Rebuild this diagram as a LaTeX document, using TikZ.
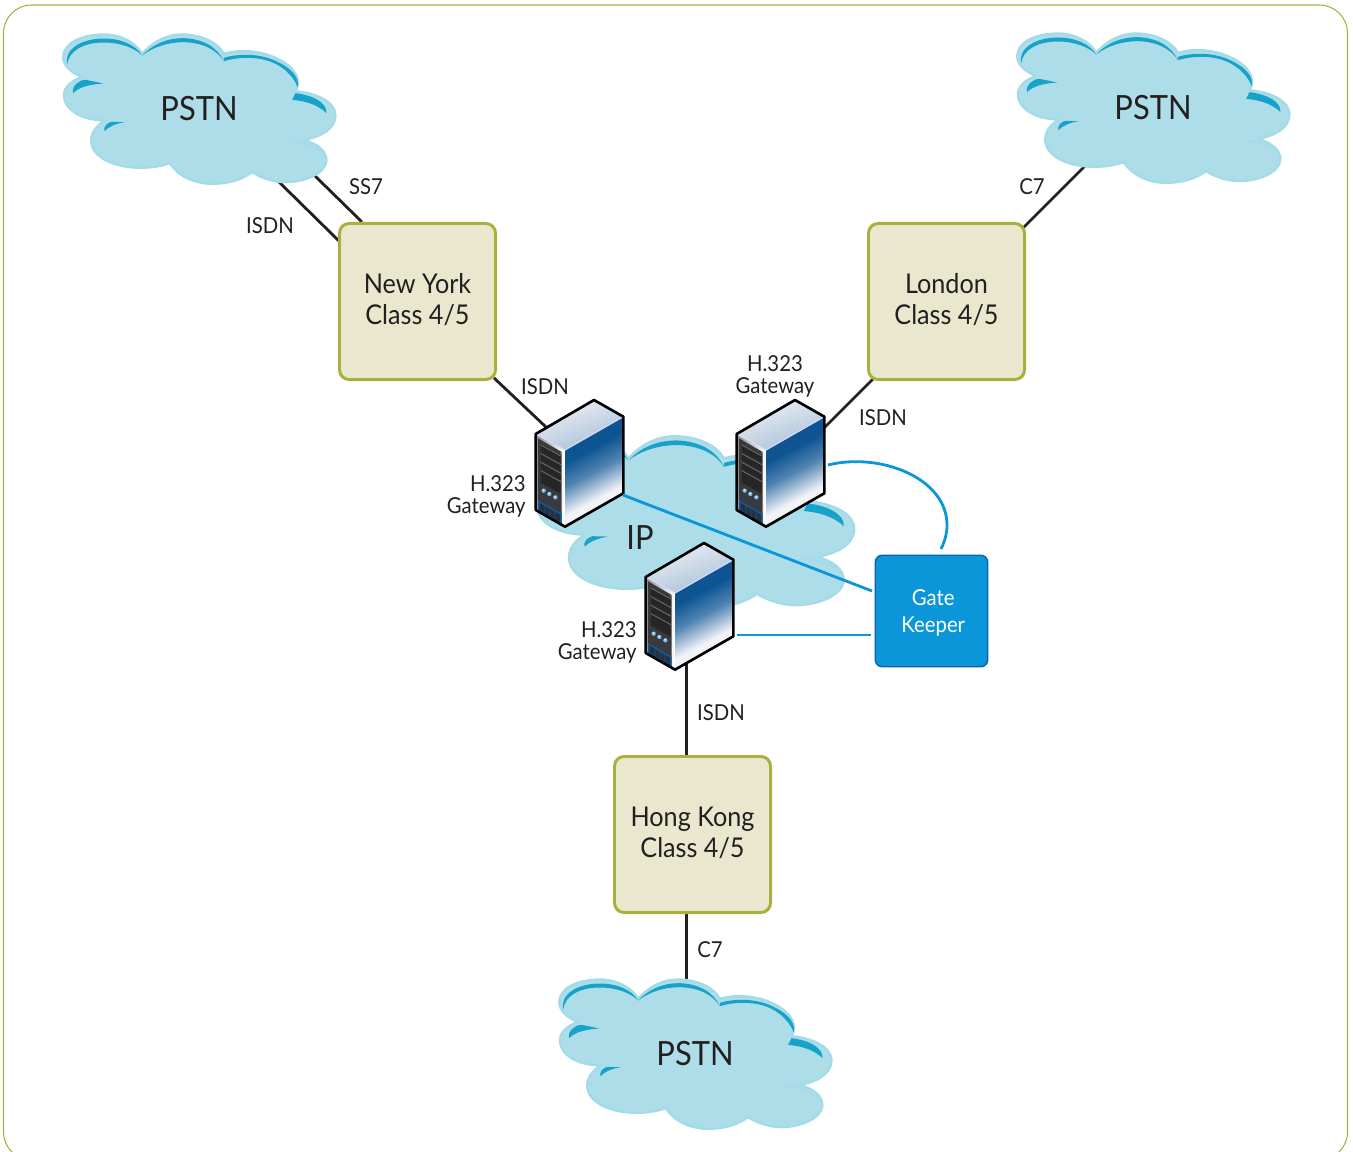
\documentclass[tikz,border=0pt]{standalone}
\usepackage{fontspec}
\setmainfont{Lato}[FakeStretch=0.925]
\usetikzlibrary{backgrounds}
\definecolor{ink}{HTML}{231F20}
\definecolor{cloudfill}{HTML}{ADDDE8}
\definecolor{cloudrim}{HTML}{A3DBE8}
\definecolor{clouddark}{HTML}{17A2C9}
\definecolor{boxfill}{HTML}{E9E8CF}
\definecolor{boxedge}{HTML}{A9B03C}
\definecolor{gatefill}{HTML}{0A96D8}
\definecolor{gateedge}{HTML}{0A62AE}
\definecolor{linkblue}{HTML}{0A96D8}
\definecolor{srvdeep}{RGB}{12,84,146}
\definecolor{srvmid}{RGB}{80,132,178}
\definecolor{srvpale}{RGB}{242,243,247}
\definecolor{srvpanel}{RGB}{58,58,62}
\definecolor{srvvent}{RGB}{16,90,160}
\definecolor{srvventb}{RGB}{40,48,60}
\definecolor{srvled}{RGB}{150,200,80}
\definecolor{srvdot}{RGB}{120,190,230}
\definecolor{srvtopa}{RGB}{240,240,246}
\definecolor{srvtopb}{RGB}{165,192,214}
\pgfdeclareverticalshading{srvface}{100bp}{color(0bp)=(srvpale); color(36bp)=(srvpale); color(50bp)=(srvmid); color(62bp)=(srvdeep); color(70bp)=(srvdeep); color(78bp)=(srvmid); color(100bp)=(srvmid)}
\tikzset{
  pics/cloudart/.style={code={
    \begin{scope}[x=0.00667cm,y=-0.00667cm,shift={(1.5,1.5)}]
    \path[fill=cloudfill,draw=cloudrim,line width=1.3pt,line join=round]
      (305,100) .. controls (340,60) and (385,40) .. (430,42) .. controls (490,44) and (535,70) .. (550,100)
      .. controls (590,88) and (650,88) .. (700,110) .. controls (750,130) and (790,170) .. (765,212)
      .. controls (830,218) and (885,245) .. (885,285) .. controls (885,325) and (840,350) .. (790,358)
      .. controls (830,370) and (858,390) .. (858,420) .. controls (855,460) and (790,485) .. (735,485) .. controls (700,485) and (660,472) .. (635,455)
      .. controls (600,480) and (560,490) .. (515,490) .. controls (460,490) and (410,465) .. (388,428)
      .. controls (360,438) and (330,442) .. (300,442) .. controls (220,442) and (152,410) .. (152,360) .. controls (152,335) and (170,312) .. (195,300)
      .. controls (120,300) and (70,265) .. (70,225) .. controls (70,200) and (95,178) .. (125,170)
      .. controls (90,155) and (68,135) .. (68,110) .. controls (68,70) and (120,42) .. (190,42) .. controls (240,42) and (285,65) .. (305,100) -- cycle;
    \fill[clouddark] (80,132) .. controls (70,85) and (125,54) .. (190,54) .. controls (240,54) and (285,72) .. (305,105)
      .. controls (280,80) and (235,66) .. (190,66) .. controls (130,66) and (85,90) .. (80,132) -- cycle;
    \fill[clouddark] (305,105) .. controls (340,68) and (385,52) .. (430,53) .. controls (485,55) and (530,78) .. (550,122)
      .. controls (530,88) and (485,66) .. (430,65) .. controls (385,65) and (340,78) .. (305,105) -- cycle;
    \fill[clouddark] (550,112) .. controls (590,100) and (650,98) .. (698,118) .. controls (745,138) and (778,165) .. (772,200)
      .. controls (755,160) and (720,132) .. (680,120) .. controls (640,108) and (590,110) .. (550,122) -- cycle;
    \fill[clouddark] (98,218) .. controls (92,198) and (115,178) .. (135,178) -- (188,189)
      .. controls (145,192) and (115,200) .. (98,218) -- cycle;
    \fill[clouddark] (192,332) .. controls (188,318) and (200,308) .. (212,304) -- (252,305)
      .. controls (225,310) and (205,318) .. (192,332) -- cycle;
    \fill[clouddark] (765,218) .. controls (815,224) and (860,245) .. (858,278)
      .. controls (835,255) and (800,242) .. (755,238) -- cycle;
    \fill[cloudrim] (740,364) .. controls (780,358) and (825,372) .. (848,398)
      .. controls (820,378) and (785,368) .. (740,364) -- cycle;
    \end{scope}
  }},
  pics/serverart/.style={code={
    \begin{scope}[x=0.00667cm,y=-0.00667cm,line join=round]
    \shade[top color=srvtopa,bottom color=srvtopb,shading angle=20]
      (17,117) -- (192,15) -- (280,65) -- (105,165) -- cycle;
    \shade[left color=black!45,right color=white]
      (17,117) -- (105,165) -- (105,395) -- (17,345) -- cycle;
    \shade[shading=srvface,shading angle=28]
      (105,165) -- (280,65) -- (280,295) -- (105,395) -- cycle;
    \fill[srvpanel] (24,130) -- (95,171) -- (95,388) -- (24,347) -- cycle;
    \fill[srvvent] (24,315) -- (95,356) -- (95,388) -- (24,347) -- cycle;
    \fill[srvventb] (29,323) -- (44,332) -- (44,354) -- (29,345) -- cycle;
    \fill[srvventb] (46,333) -- (59,341) -- (59,363) -- (46,355) -- cycle;
    \fill[srvventb] (61,342) -- (74,350) -- (74,372) -- (61,364) -- cycle;
    \fill[srvventb] (76,351) -- (90,359) -- (90,381) -- (76,373) -- cycle;
    \foreach \yy/\hh in {150/21,176/21,202/21,227/36}{
      \fill[black!85] (32,\yy) -- (92,\yy+33) -- (92,\yy+33+\hh) -- (32,\yy+\hh) -- cycle;
      \draw[white!55!black,line width=0.25pt] (32,\yy) -- (92,\yy+33);
    }
    \fill[srvled] (92,174) circle (2);
    \foreach \dx/\dy in {41/287,58/297,76/307}{
      \fill[srvdot] (\dx,\dy) circle (6.5);
      \fill[white] (\dx-1,\dy-2) circle (2.5);
    }
    \draw[white!85!blue,line width=0.7pt] (17,117) -- (105,165) -- (280,65);
    \draw[white,line width=0.6pt] (103,166) -- (103,392);
    \draw[black,line width=1.5pt]
      (17,117) -- (192,15) -- (280,65) -- (280,295) -- (105,395) -- (17,345) -- cycle;
    \end{scope}
  }},
  classbox/.style={draw=boxedge,fill=boxfill,line width=1.7pt,rounded corners=5.5pt,
    minimum width=88.8pt,minimum height=88.8pt,inner sep=0pt,text=ink,font=\fontsize{15.5pt}{17.8pt}\selectfont},
  gatebox/.style={draw=gateedge,fill=gatefill,line width=0.8pt,rounded corners=4pt,
    minimum width=64pt,minimum height=63.5pt,inner sep=0pt,text=white,font=\fontsize{12.5pt}{15.2pt}\selectfont},
  cloudtext/.style={text=ink,inner sep=0pt,font=\fontsize{19pt}{22pt}\selectfont},
  tag/.style={text=ink,inner sep=0pt,font=\fontsize{12.5pt}{12.6pt}\selectfont,align=center},
  blacklink/.style={draw=ink,line width=1.6pt},
  bluelink/.style={draw=linkblue,line width=1.6pt},
}
\newcommand{\liftlines}[4]{\raisebox{#1}[\height][\depth]{\parbox{#2}{\centering #3\\#4}}}
\begin{document}
\begin{tikzpicture}[x=0.02cm,y=-0.02cm]
\useasboundingbox (0,0) rectangle (1353,1152);
\begin{scope}
\clip (0,0) rectangle (1353,1152);
\draw[boxedge,line width=0.6pt,rounded corners=16pt] (3.5,5) -- (1347.5,5) -- (1347.5,1160) -- (3.5,1160) -- cycle;
\end{scope}

% clouds
\pic at (40,20) {cloudart};
\pic at (994,19) {cloudart};
\pic at (536,965) {cloudart};
\pic[xscale=1.168,yscale=1.144] at (509.2,419.7) {cloudart};
\node[cloudtext] (pstnny) at (199,109) {PSTN};
\node[cloudtext] (pstnld) at (1153,108) {PSTN};
\node[cloudtext] (pstnhk) at (695,1054) {PSTN};
\node[cloudtext] (ip) at (640,538) {IP};

% servers
\pic at (530,395) {serverart};
\pic at (731,395) {serverart};
\pic at (640,538) {serverart};

% boxes
\node[classbox] (ny) at (417.5,301.5) {\liftlines{0.9pt}{85pt}{New York}{Class 4/5}};
\node[classbox] (ld) at (946.5,301.5) {\liftlines{0.9pt}{85pt}{London}{Class 4/5}};
\node[classbox] (hk) at (692.5,834.5) {\liftlines{0.9pt}{85pt}{Hong Kong}{Class 4/5}};
\node[gatebox] (gk) at (931.5,611) {\hspace{2pt}\liftlines{-1.1pt}{58pt}{Gate}{Keeper}};

% connector ends
\coordinate (nyisdnA) at (339,241);
\coordinate (nyisdnB) at (277,180);
\coordinate (nyssA) at (362,222);
\coordinate (nyssB) at (314,175);
\coordinate (ldcA) at (1023,228);
\coordinate (ldcB) at (1086,165);
\coordinate (nysrvA) at (494,378);
\coordinate (nysrvB) at (547,428);
\coordinate (ldsrvA) at (873,379);
\coordinate (ldsrvB) at (824,428);
\coordinate (hksrvA) at (686.5,660);
\coordinate (hksrvB) at (686.5,757);
\coordinate (hkcA) at (686.5,912);
\coordinate (hkcB) at (686.5,985);
\begin{scope}[on background layer]
\draw[blacklink] (nyisdnA) -- (nyisdnB);
\draw[blacklink] (nyssA) -- (nyssB);
\draw[blacklink] (ldcA) -- (ldcB);
\draw[blacklink] (nysrvA) -- (nysrvB);
\draw[blacklink] (ldsrvA) -- (ldsrvB);
\draw[blacklink] (hksrvA) -- (hksrvB);
\draw[blacklink] (hkcA) -- (hkcB);
\end{scope}

\coordinate (srvnyout) at (623,495);
\coordinate (gkin) at (872,591);
\coordinate (srvhkout) at (737,635);
\coordinate (gkleft) at (871,635);
\coordinate (srvldout) at (828,465);
\coordinate (gktop) at (941,549);
\draw[bluelink] (srvnyout) -- (gkin);
\draw[bluelink] (srvhkout) -- (gkleft);
\draw[bluelink] (srvldout) .. controls (880,452) and (947,478) .. (947,525) .. controls (947,533) and (945,541) .. (gktop);

% labels
\node[tag] (lss) at (366,187) {SS7};
\node[tag] (lis) at (270,226) {ISDN};
\node[tag] (lc7a) at (1032,187) {C7};
\node[tag] (lis2) at (545,387) {ISDN};
\node[tag] (lis3) at (883,418) {ISDN};
\node[tag] (lis4) at (721,713) {ISDN};
\node[tag] (lc7b) at (710,950) {C7};
\node[tag,align=right,anchor=east] (gw1) at (526,496) {H.323\\Gateway};
\node[tag] (gw2) at (775,376) {H.323\\Gateway};
\node[tag,align=right,anchor=east] (gw3) at (637,642) {H.323\\Gateway};
\end{tikzpicture}
\end{document}
